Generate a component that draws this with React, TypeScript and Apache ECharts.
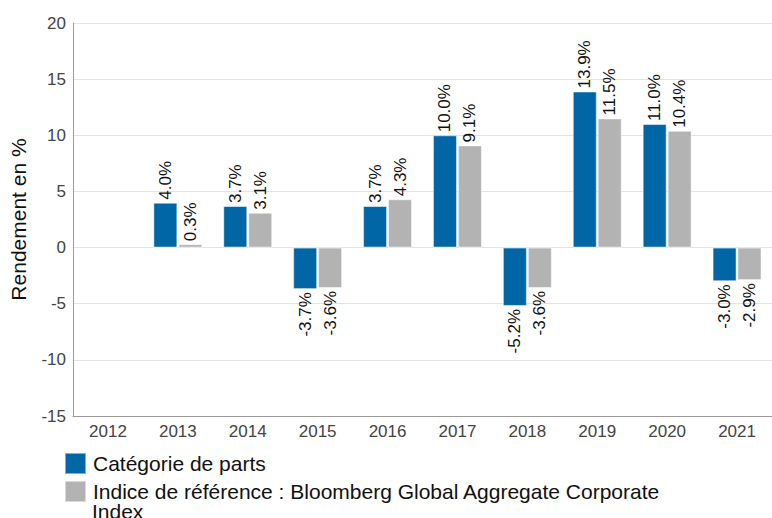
import React, { useEffect, useRef } from "react";
import * as echarts from "echarts";

const years = ["2012", "2013", "2014", "2015", "2016", "2017", "2018", "2019", "2020", "2021"];
const fundValues: (number | null)[] = [null, 4.0, 3.7, -3.7, 3.7, 10.0, -5.2, 13.9, 11.0, -3.0];
const indexValues: (number | null)[] = [null, 0.3, 3.1, -3.6, 4.3, 9.1, -3.6, 11.5, 10.4, -2.9];
const seriesNames = ["Catégorie de parts", "Indice de référence : Bloomberg Global Aggregate Corporate"];
const legendWrap = "Index";
const yAxisName = "Rendement en %";

const FONT = "'Liberation Sans', Arial, sans-serif";

function toData(vals: (number | null)[]) {
  return vals.map((v) => {
    if (v === null) return { value: null };
    const neg = v < 0;
    return {
      value: v,
      label: {
        show: true,
        position: neg ? "bottom" : "top",
        rotate: 90,
        align: neg ? "right" : "left",
        verticalAlign: "middle",
        distance: 3,
      },
    };
  });
}

export default function App() {
  const ref = useRef<HTMLDivElement>(null);
  useEffect(() => {
    if (!ref.current) return;
    const chart = echarts.init(ref.current, undefined, { renderer: "svg" });
    const labelStyle = {
      fontFamily: FONT,
      fontSize: 17,
      color: "#111",
      formatter: (p: any) => `${Number(p.value).toFixed(1)}%`,
    };
    chart.setOption({
      animation: false,
      textStyle: { fontFamily: FONT },
      grid: { left: 71, right: -6, top: 23, bottom: 102, containLabel: false },
      legend: {
        orient: "vertical",
        left: 64,
        top: 452,
        padding: 0,
        itemWidth: 21,
        itemHeight: 21,
        itemGap: 5,
        icon: "rect",
        selectedMode: false,
        textStyle: { fontFamily: FONT, fontSize: 21, color: "#111", padding: [0, 0, 0, 2] },
        data: seriesNames,
      },
      graphic: [
        {
          type: "text",
          left: 92,
          top: 501,
          style: { text: legendWrap, fontFamily: FONT, fontSize: 21, lineHeight: 17, fill: "#111" },
        },
      ],
      xAxis: {
        type: "category",
        data: years,
        axisLine: { onZero: false, lineStyle: { color: "#999" } },
        axisTick: { show: false },
        axisLabel: { fontFamily: FONT, fontSize: 17, color: "#444", margin: 7 },
        splitLine: { show: false },
      },
      yAxis: {
        type: "value",
        min: -15,
        max: 20,
        interval: 5,
        name: yAxisName,
        nameLocation: "middle",
        nameGap: 44,
        nameTextStyle: { fontFamily: FONT, fontSize: 21, color: "#111" },
        axisLine: { show: true, lineStyle: { color: "#999" } },
        axisTick: { show: false },
        axisLabel: { fontFamily: FONT, fontSize: 17, color: "#444", margin: 7 },
        splitLine: { lineStyle: { color: "#e4e4e4" } },
      },
      series: [
        {
          name: seriesNames[0],
          type: "bar",
          data: toData(fundValues),
          barWidth: 24,
          barGap: "4%",
          itemStyle: { color: "#0066a6", borderColor: "rgba(255,255,255,0.5)", borderWidth: 1 },
          label: labelStyle,
        },
        {
          name: seriesNames[1],
          type: "bar",
          data: toData(indexValues),
          barWidth: 24,
          itemStyle: { color: "#b3b3b3", borderColor: "rgba(255,255,255,0.5)", borderWidth: 1 },
          label: labelStyle,
        },
      ],
    });
    return () => chart.dispose();
  }, []);
  return <div ref={ref} style={{ width: 772, height: 518, position: "absolute", left: 0, top: 0 }} />;
}
